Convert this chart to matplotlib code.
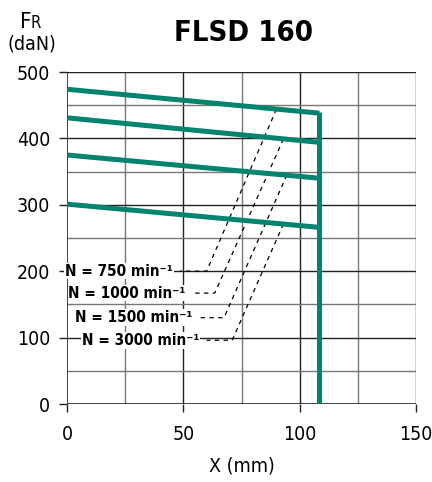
import numpy as np
import matplotlib.pyplot as plt

plt.rcParams['font.family'] = ['DejaVu Sans']
plt.rcParams['font.stretch'] = 'condensed'

# curves: load vs. distance for each speed
x_start = [0, 0, 0, 0]
x_end = [108.5, 108.5, 108.5, 108.5]
f_start = [474, 431, 375, 301]
f_end = [438, 394, 340, 266]
x_wall = 108.5

speeds = ['750', '1000', '1500', '3000']
# leader lines: point on curve -> label end -> text end
lead_top = [(90, 444), (93, 399), (94.5, 345), (93, 271)]
lead_bot = [(60, 200), (63.5, 167), (67.5, 130), (71, 96)]
lead_txt = [48.5, 53.5, 56, 60]
label_x = [45.5, 51, 54, 57]

green = '#00836f'

fig = plt.figure(figsize=(4.32, 4.82), dpi=100)
ax = fig.add_axes([67 / 432, 1 - 404 / 482, 349 / 432, 332 / 482])
ax.set_xlim(0, 150)
ax.set_ylim(0, 500)

# grid
for gx in np.arange(25, 151, 25):
    major = gx % 50 == 0
    ax.axvline(gx, color='#222' if major else '#777', lw=1.0, zorder=1)
for gy in np.arange(50, 501, 50):
    major = gy % 100 == 0
    ax.axhline(gy, color='#222' if major else '#777', lw=1.0, zorder=1)

for s in ax.spines.values():
    s.set_visible(False)
ax.axvline(0, color='#222', lw=1.2, zorder=2)
ax.axhline(0, color='#222', lw=1.2, zorder=2)

ax.set_xticks([0, 50, 100, 150])
ax.set_yticks([0, 100, 200, 300, 400, 500])
ax.tick_params(length=6, width=1.0, color='#222', labelsize=14, pad=9)
ax.tick_params(axis='y', labelsize=14, pad=6)

# green curves
for xs, xe, fs, fe in zip(x_start, x_end, f_start, f_end):
    ax.plot([xs, xe], [fs, fe], color=green, lw=3.6, solid_capstyle='butt', zorder=5)
ax.plot([x_wall, x_wall], [f_end[0] + 1.5, 0], color=green, lw=3.6,
        solid_capstyle='butt', zorder=5)

# leader lines and labels
for sp, (tx, ty), (bx, by), lx, px in zip(speeds, lead_top, lead_bot, lead_txt, label_x):
    ax.plot([tx, bx, lx], [ty, by, by], color='black', lw=0.9,
            dashes=(3.5, 3.5), zorder=3)
    ax.text(px, by, 'N = %s min\u207b\u00b9' % sp, ha='right', va='center',
            fontsize=11, fontweight='bold', zorder=4,
            bbox=dict(facecolor='white', edgecolor='none', pad=0.5))

fig.text(243 / 432, 1 - 33 / 482, 'FLSD 160', ha='center', va='center',
         fontsize=21, fontweight='bold')
fig.text(31 / 432, 1 - 28 / 482, 'F', ha='right', va='baseline', fontsize=16)
fig.text(31 / 432, 1 - 28 / 482, 'R', ha='left', va='baseline', fontsize=12)
fig.text(32 / 432, 1 - 44 / 482, '(daN)', ha='center', va='center', fontsize=14)
ax.set_xlabel('X (mm)', fontsize=14, labelpad=9)

fig.savefig('out.png', dpi=100)
